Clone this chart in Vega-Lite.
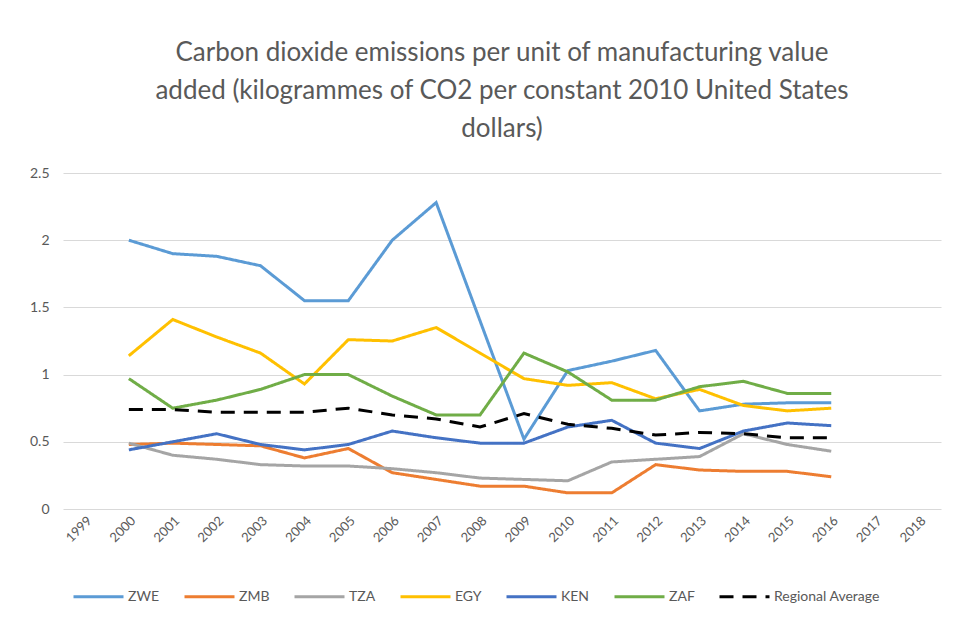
{
  "$schema": "https://vega.github.io/schema/vega-lite/v6.json",
  "autosize": {"type": "none"},
  "width": 878,
  "height": 336,
  "padding": {"left": 63, "top": 173, "right": 12, "bottom": 135},
  "background": "white",
  "title": {
    "text": ["Carbon dioxide emissions per unit of manufacturing value", "added (kilogrammes of CO2 per constant 2010 United States", "dollars)"],
    "anchor": "middle",
    "font": "Lato",
    "fontSize": 26,
    "fontWeight": "normal",
    "color": "#595959",
    "lineHeight": 38,
    "offset": 24
  },
  "config": {
    "view": {"stroke": null},
    "font": "Lato"
  },
  "data": {
    "values": [
      {"year":"2000","series":"ZWE","value":2.0},{"year":"2001","series":"ZWE","value":1.9},{"year":"2002","series":"ZWE","value":1.88},{"year":"2003","series":"ZWE","value":1.81},{"year":"2004","series":"ZWE","value":1.55},{"year":"2005","series":"ZWE","value":1.55},{"year":"2006","series":"ZWE","value":2.0},{"year":"2007","series":"ZWE","value":2.28},{"year":"2008","series":"ZWE","value":1.4},{"year":"2009","series":"ZWE","value":0.52},{"year":"2010","series":"ZWE","value":1.03},{"year":"2011","series":"ZWE","value":1.1},{"year":"2012","series":"ZWE","value":1.18},{"year":"2013","series":"ZWE","value":0.73},{"year":"2014","series":"ZWE","value":0.78},{"year":"2015","series":"ZWE","value":0.79},{"year":"2016","series":"ZWE","value":0.79},
      {"year":"2000","series":"ZMB","value":0.48},{"year":"2001","series":"ZMB","value":0.49},{"year":"2002","series":"ZMB","value":0.48},{"year":"2003","series":"ZMB","value":0.47},{"year":"2004","series":"ZMB","value":0.38},{"year":"2005","series":"ZMB","value":0.45},{"year":"2006","series":"ZMB","value":0.27},{"year":"2007","series":"ZMB","value":0.22},{"year":"2008","series":"ZMB","value":0.17},{"year":"2009","series":"ZMB","value":0.17},{"year":"2010","series":"ZMB","value":0.12},{"year":"2011","series":"ZMB","value":0.12},{"year":"2012","series":"ZMB","value":0.33},{"year":"2013","series":"ZMB","value":0.29},{"year":"2014","series":"ZMB","value":0.28},{"year":"2015","series":"ZMB","value":0.28},{"year":"2016","series":"ZMB","value":0.24},
      {"year":"2000","series":"TZA","value":0.49},{"year":"2001","series":"TZA","value":0.4},{"year":"2002","series":"TZA","value":0.37},{"year":"2003","series":"TZA","value":0.33},{"year":"2004","series":"TZA","value":0.32},{"year":"2005","series":"TZA","value":0.32},{"year":"2006","series":"TZA","value":0.3},{"year":"2007","series":"TZA","value":0.27},{"year":"2008","series":"TZA","value":0.23},{"year":"2009","series":"TZA","value":0.22},{"year":"2010","series":"TZA","value":0.21},{"year":"2011","series":"TZA","value":0.35},{"year":"2012","series":"TZA","value":0.37},{"year":"2013","series":"TZA","value":0.39},{"year":"2014","series":"TZA","value":0.56},{"year":"2015","series":"TZA","value":0.48},{"year":"2016","series":"TZA","value":0.43},
      {"year":"2000","series":"EGY","value":1.14},{"year":"2001","series":"EGY","value":1.41},{"year":"2002","series":"EGY","value":1.28},{"year":"2003","series":"EGY","value":1.16},{"year":"2004","series":"EGY","value":0.93},{"year":"2005","series":"EGY","value":1.26},{"year":"2006","series":"EGY","value":1.25},{"year":"2007","series":"EGY","value":1.35},{"year":"2008","series":"EGY","value":1.16},{"year":"2009","series":"EGY","value":0.97},{"year":"2010","series":"EGY","value":0.92},{"year":"2011","series":"EGY","value":0.94},{"year":"2012","series":"EGY","value":0.82},{"year":"2013","series":"EGY","value":0.89},{"year":"2014","series":"EGY","value":0.77},{"year":"2015","series":"EGY","value":0.73},{"year":"2016","series":"EGY","value":0.75},
      {"year":"2000","series":"KEN","value":0.44},{"year":"2001","series":"KEN","value":0.5},{"year":"2002","series":"KEN","value":0.56},{"year":"2003","series":"KEN","value":0.48},{"year":"2004","series":"KEN","value":0.44},{"year":"2005","series":"KEN","value":0.48},{"year":"2006","series":"KEN","value":0.58},{"year":"2007","series":"KEN","value":0.53},{"year":"2008","series":"KEN","value":0.49},{"year":"2009","series":"KEN","value":0.49},{"year":"2010","series":"KEN","value":0.61},{"year":"2011","series":"KEN","value":0.66},{"year":"2012","series":"KEN","value":0.49},{"year":"2013","series":"KEN","value":0.45},{"year":"2014","series":"KEN","value":0.58},{"year":"2015","series":"KEN","value":0.64},{"year":"2016","series":"KEN","value":0.62},
      {"year":"2000","series":"ZAF","value":0.97},{"year":"2001","series":"ZAF","value":0.75},{"year":"2002","series":"ZAF","value":0.81},{"year":"2003","series":"ZAF","value":0.89},{"year":"2004","series":"ZAF","value":1.0},{"year":"2005","series":"ZAF","value":1.0},{"year":"2006","series":"ZAF","value":0.84},{"year":"2007","series":"ZAF","value":0.7},{"year":"2008","series":"ZAF","value":0.7},{"year":"2009","series":"ZAF","value":1.16},{"year":"2010","series":"ZAF","value":1.02},{"year":"2011","series":"ZAF","value":0.81},{"year":"2012","series":"ZAF","value":0.81},{"year":"2013","series":"ZAF","value":0.91},{"year":"2014","series":"ZAF","value":0.95},{"year":"2015","series":"ZAF","value":0.86},{"year":"2016","series":"ZAF","value":0.86},
      {"year":"2000","series":"Regional Average","value":0.74},{"year":"2001","series":"Regional Average","value":0.74},{"year":"2002","series":"Regional Average","value":0.72},{"year":"2003","series":"Regional Average","value":0.72},{"year":"2004","series":"Regional Average","value":0.72},{"year":"2005","series":"Regional Average","value":0.75},{"year":"2006","series":"Regional Average","value":0.7},{"year":"2007","series":"Regional Average","value":0.67},{"year":"2008","series":"Regional Average","value":0.61},{"year":"2009","series":"Regional Average","value":0.71},{"year":"2010","series":"Regional Average","value":0.63},{"year":"2011","series":"Regional Average","value":0.6},{"year":"2012","series":"Regional Average","value":0.55},{"year":"2013","series":"Regional Average","value":0.57},{"year":"2014","series":"Regional Average","value":0.56},{"year":"2015","series":"Regional Average","value":0.53},{"year":"2016","series":"Regional Average","value":0.53}
    ]
  },
  "mark": {"type": "line", "strokeWidth": 3},
  "encoding": {
    "x": {
      "field": "year",
      "type": "ordinal",
      "scale": {"type": "point", "padding": 0.5, "domain": ["1999","2000","2001","2002","2003","2004","2005","2006","2007","2008","2009","2010","2011","2012","2013","2014","2015","2016","2017","2018"]},
      "axis": {
        "title": null,
        "labelAngle": -45,
        "labelFontSize": 13,
        "labelColor": "#595959",
        "labelFont": "Lato",
        "ticks": false,
        "domain": false,
        "grid": false,
        "labelPadding": 5
      }
    },
    "y": {
      "field": "value",
      "type": "quantitative",
      "scale": {"domain": [0, 2.5]},
      "axis": {
        "title": null,
        "values": [0, 0.5, 1, 1.5, 2, 2.5],
        "format": "~g",
        "labelFontSize": 14,
        "labelColor": "#595959",
        "labelFont": "Lato",
        "ticks": false,
        "domain": false,
        "gridColor": "#D9D9D9",
        "gridWidth": 1,
        "labelPadding": 14
      }
    },
    "color": {
      "field": "series",
      "type": "nominal",
      "scale": {
        "domain": ["ZWE","ZMB","TZA","EGY","KEN","ZAF","Regional Average"],
        "range": ["#5B9BD5","#ED7D31","#A5A5A5","#FFC000","#4472C4","#70AD47","#000000"]
      },
      "legend": {
        "title": null,
        "orient": "none",
        "direction": "horizontal",
        "legendX": 9,
        "legendY": 397,
        "symbolType": "stroke",
        "symbolSize": 2500,
        "symbolStrokeWidth": 3,
        "labelFontSize": 14,
        "labelColor": "#595959",
        "labelFont": "Lato",
        "labelOffset": 3,
        "columnPadding": 18
      }
    },
    "strokeDash": {
      "field": "series",
      "type": "nominal",
      "scale": {
        "domain": ["ZWE","ZMB","TZA","EGY","KEN","ZAF","Regional Average"],
        "range": [[1,0],[1,0],[1,0],[1,0],[1,0],[1,0],[14,9]]
      },
      "legend": {
        "title": null,
        "orient": "none",
        "direction": "horizontal",
        "legendX": 9,
        "legendY": 397,
        "symbolType": "stroke",
        "symbolSize": 2500,
        "symbolStrokeWidth": 3,
        "labelFontSize": 14,
        "labelColor": "#595959",
        "labelFont": "Lato",
        "labelOffset": 3,
        "columnPadding": 18
      }
    }
  }
}
